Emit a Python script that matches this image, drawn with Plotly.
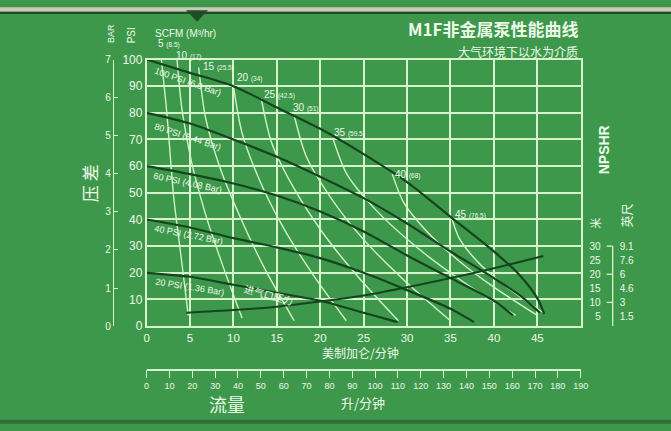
import plotly.graph_objects as go

# ---------------- data ----------------
gpm_ticks = [0, 5, 10, 15, 20, 25, 30, 35, 40, 45, 50]
gpm_ticktext = ["0", "5", "10", "15", "20", "25", "30", "35", "40", "45", ""]
psi_ticks = [0, 10, 20, 30, 40, 50, 60, 70, 80, 90, 100]
bar_ticks = [0, 1, 2, 3, 4, 5, 6, 7]
lpm_ticks = list(range(0, 200, 10))
npshr_vals = [5, 10, 15, 20, 25, 30]
npshr_left_text = ["5", "10", "15", "20", "25", "30"]
npshr_right_text = ["1.5", "3", "4.6", "6", "7.6", "9.1"]

# pressure (inlet air) curves: flow gpm -> discharge psi
psi100_gpm = [0, 5, 10, 15, 20, 25, 30, 35, 40, 43, 45, 45.8]
psi100_psi = [100, 95, 90, 82, 74, 64.5, 54, 41, 28, 19, 10.5, 4.5]
psi80_gpm = [0, 5, 10, 15, 20, 25, 30, 35, 40, 43, 45.3]
psi80_psi = [80, 76, 70, 63.5, 56, 48, 38.5, 28, 18, 11.5, 5]
psi60_gpm = [0, 5, 10, 15, 20, 25, 30, 35, 40, 42.2]
psi60_psi = [60, 57, 53.5, 49, 43, 35.5, 26.5, 18, 9.5, 4]
psi40_gpm = [0, 5, 10, 15, 20, 25, 30, 35, 37.7]
psi40_psi = [40, 37, 33, 29.5, 25.5, 20, 13.5, 6.5, 1.5]
psi20_gpm = [0, 5, 10, 15, 20, 25, 28.9]
psi20_psi = [20, 18.5, 15.5, 12.5, 9.5, 5, 1.5]

# NPSHR curve
npshr_gpm = [4.6, 10, 15, 20, 25, 30, 35, 40, 45.7]
npshr_val = [5, 6, 7.3, 9.2, 11.5, 14.6, 18, 21.7, 26.3]

# air consumption (SCFM) curves
scfm5_gpm = [1.7, 2.3, 2.7, 3.1, 3.7, 4.2, 4.8]
scfm5_psi = [100, 81, 65, 49, 33, 20, 4]
scfm10_gpm = [3.5, 4.1, 5.2, 6.8, 8.8, 11.0]
scfm10_psi = [100, 80.6, 61.2, 41.8, 22.4, 3]
scfm15_gpm = [6.0, 6.8, 8.5, 10.9, 13.7, 17.0]
scfm15_psi = [97, 78, 59, 40, 21, 2]
scfm20_gpm = [10, 11.0, 13.0, 15.7, 19.1, 23]
scfm20_psi = [90, 72.4, 54.8, 37.2, 19.6, 2]
scfm25_gpm = [13.2, 14.4, 16.9, 20.2, 24.3, 29.0]
scfm25_psi = [85.5, 68.8, 52.1, 35.4, 18.7, 2]
scfm30_gpm = [17, 18.4, 21.2, 24.9, 29.6, 35]
scfm30_psi = [79, 63.6, 48.2, 32.8, 17.4, 2]
scfm35_gpm = [21.5, 23.1, 26.4, 30.8, 36.2, 42.5]
scfm35_psi = [70, 56.8, 43.6, 30.4, 17.2, 4]
scfm40_gpm = [28.3, 29.6, 32.2, 35.7, 40.0, 45.0]
scfm40_psi = [57, 46.4, 35.8, 25.2, 14.6, 4]
scfm45_gpm = [35.2, 36.0, 37.6, 39.8, 42.6, 45.7]
scfm45_psi = [40, 33, 26, 19, 12, 5]

# labels
scfm_names = ["5", "10", "15", "20", "25", "30", "35", "40", "45"]
scfm_m3 = ["8.5", "17", "25.5", "34", "42.5", "51", "59.5", "68", "76.5"]
scfm_label_gpm = [2.6, 4.8, 8.3, 11.8, 15.3, 18.3, 23.4, 30.0, 37.3]
scfm_label_psi = [106, 101.4, 97.3, 93.1, 87, 82.1, 72.8, 56.9, 41.7]

pressure_labels = ["100 PSI (6.8 Bar)", "80 PSI (5.44 Bar)", "60 PSI (4.08 Bar)",
                   "40 PSI (2.72 Bar)", "20 PSI (1.36 Bar)"]
pressure_label_gpm = [4.8, 4.8, 4.8, 4.9, 5.0]
pressure_label_psi = [91.5, 71.0, 53.8, 34.3, 14.5]
pressure_label_angle = [19, 18, 12, 11, 9]

# ---------------- style ----------------
W, H = 671, 431
ML, MR, MT, MB = 60, 20, 10, 10
PW, PH = W - ML - MR, H - MT - MB


def pxx(px):
    return (px - ML) / PW


def pxy(py):
    return (H - MB - py) / PH


BG = "rgb(62,152,76)"
GRID = "rgb(214,244,204)"
TXT = "rgb(236,250,232)"
DARK = "rgb(22,68,30)"
AIR = "rgb(208,244,200)"
FONT = "Liberation Sans, Arial, Noto Sans CJK SC, sans-serif"
CJK = "Noto Sans CJK SC, sans-serif"

x_dom = [pxx(146.6), pxx(580.7)]
y_dom = [pxy(330), pxy(54)]
pos_np = pxx(612.7)


def psi_paper(p):
    return y_dom[0] + (y_dom[1] - y_dom[0]) * p / 100.0


fig = go.Figure()

scfm_curves = [(scfm5_gpm, scfm5_psi), (scfm10_gpm, scfm10_psi), (scfm15_gpm, scfm15_psi),
               (scfm20_gpm, scfm20_psi), (scfm25_gpm, scfm25_psi), (scfm30_gpm, scfm30_psi),
               (scfm35_gpm, scfm35_psi), (scfm40_gpm, scfm40_psi), (scfm45_gpm, scfm45_psi)]
for gx, py in scfm_curves:
    fig.add_trace(go.Scatter(x=gx, y=py, mode="lines",
                             line=dict(color=AIR, width=1.4, shape="spline", smoothing=0.8),
                             hoverinfo="skip", showlegend=False))

pressure_curves = [(psi100_gpm, psi100_psi), (psi80_gpm, psi80_psi), (psi60_gpm, psi60_psi),
                   (psi40_gpm, psi40_psi), (psi20_gpm, psi20_psi)]
for gx, py in pressure_curves:
    fig.add_trace(go.Scatter(x=gx, y=py, mode="lines",
                             line=dict(color=DARK, width=2.2, shape="spline", smoothing=0.8),
                             hoverinfo="skip", showlegend=False))

fig.add_trace(go.Scatter(x=npshr_gpm, y=npshr_val, mode="lines",
                         line=dict(color=DARK, width=2, shape="spline", smoothing=0.8),
                         hoverinfo="skip", showlegend=False))

# dummy traces to activate secondary axes
for xa, ya in [("x2", "y"), ("x", "y2"), ("x", "y3"), ("x", "y4")]:
    fig.add_trace(go.Scatter(x=[None], y=[None], xaxis=xa, yaxis=ya, mode="lines",
                             showlegend=False, hoverinfo="skip"))

fig.update_layout(
    width=W, height=H,
    margin=dict(l=ML, r=MR, t=MT, b=MB),
    paper_bgcolor=BG, plot_bgcolor=BG,
    font=dict(family=FONT, color=TXT),
    xaxis=dict(domain=x_dom, range=[0, 50], tickvals=gpm_ticks, ticktext=gpm_ticktext,
               showgrid=True, gridcolor=GRID, gridwidth=1.5, showline=True, linecolor=GRID,
               linewidth=1.5, mirror=True, zeroline=False, ticks="",
               tickfont=dict(size=11.5, color=TXT), anchor="y"),
    yaxis=dict(domain=y_dom, range=[0, 100], tickvals=psi_ticks,
               showgrid=True, gridcolor=GRID, gridwidth=1.5, showline=True, linecolor=GRID,
               linewidth=1.5, mirror=True, zeroline=False, ticks="",
               tickfont=dict(size=12, color=TXT), anchor="x"),
    xaxis2=dict(overlaying="x", anchor="free", position=pxy(375), side="bottom",
                range=[0, 190], tickvals=lpm_ticks, showgrid=False, zeroline=False,
                showline=True, linecolor=GRID, linewidth=1.5, ticks="outside", ticklen=8,
                tickcolor=GRID, tickwidth=1.2, tickfont=dict(size=9, color=TXT)),
    yaxis2=dict(overlaying="y", anchor="free", position=pxx(113), side="left",
                range=[0, 7], tickvals=bar_ticks, showgrid=False, zeroline=False,
                showline=True, linecolor=GRID, linewidth=1.2, ticks="inside", ticklen=4,
                tickcolor=GRID, tickfont=dict(size=10, color=TXT)),
    yaxis3=dict(overlaying="y", anchor="free", position=pos_np, side="left",
                range=[1.58, 96.3], tickvals=npshr_vals, ticktext=npshr_left_text,
                showgrid=False, zeroline=False, showline=False, ticks="",
                ticklabelstandoff=12, tickfont=dict(size=10, color=TXT)),
    yaxis4=dict(overlaying="y", anchor="free", position=pos_np, side="right",
                range=[1.58, 96.3], tickvals=npshr_vals, ticktext=npshr_right_text,
                showgrid=False, zeroline=False, showline=False, ticks="",
                ticklabelstandoff=6, tickfont=dict(size=10, color=TXT)),
)

shapes = []
# NPSHR bracket
shapes.append(dict(type="line", xref="paper", yref="y3", x0=pos_np, x1=pos_np, y0=30, y1=1.0,
                   line=dict(color=GRID, width=1.3)))
for v in [30, 20, 10, 1.0]:
    shapes.append(dict(type="line", xref="paper", yref="y3", x0=pos_np - 6 / PW, x1=pos_np,
                       y0=v, y1=v, line=dict(color=GRID, width=1.3)))
# top strip, frame line, arrow, bottom band
shapes.append(dict(type="rect", xref="paper", yref="paper", x0=pxx(0), x1=pxx(W),
                   y0=pxy(0), y1=pxy(4.5), fillcolor="rgb(205,200,182)", line=dict(width=0)))
shapes.append(dict(type="rect", xref="paper", yref="paper", x0=pxx(0), x1=pxx(W),
                   y0=pxy(4.5), y1=pxy(7), fillcolor="rgb(30,78,38)", line=dict(width=0)))
shapes.append(dict(type="path", xref="paper", yref="paper",
                   path="M {} {} L {} {} L {} {} Z".format(pxx(186), pxy(3), pxx(208), pxy(3),
                                                        pxx(197), pxy(15)),
                   fillcolor="rgb(30,78,38)", line=dict(width=0)))
shapes.append(dict(type="rect", xref="paper", yref="paper", x0=pxx(0), x1=pxx(W),
                   y0=pxy(427), y1=pxy(H), fillcolor="rgb(44,112,56)", line=dict(width=0)))
fig.update_layout(shapes=shapes)

ann = []


def txt(x, y, text, size, angle=0, xanchor="center", family=FONT, xref="paper", yref="paper"):
    ann.append(dict(x=x, y=y, xref=xref, yref=yref, text=text, showarrow=False,
                    xanchor=xanchor, yanchor="middle", textangle=angle,
                    font=dict(size=size, color=TXT, family=family)))


# SCFM labels on curves
for name, m3, gx, py in zip(scfm_names, scfm_m3, scfm_label_gpm, scfm_label_psi):
    txt(gx, psi_paper(py), "{} <span style='font-size:6.5px'>({})</span>".format(name, m3), 10,
        xref="x", yref="paper")
# pressure curve labels
for lab, gx, py, a in zip(pressure_labels, pressure_label_gpm, pressure_label_psi,
                          pressure_label_angle):
    txt(gx, py, lab, 9, angle=a, xref="x", yref="y")
txt(14.1, 12, "进气口压力", 10, angle=15, family=CJK, xref="x", yref="y")

# titles and axis captions
txt(pxx(580), pxy(22), "<b>M1F非金属泵性能曲线</b>", 17, xanchor="right", family=CJK)
txt(pxx(580), pxy(46), "大气环境下以水为介质", 12, xanchor="right", family=CJK)
txt(pxx(152.7), pxy(27), "SCFM (M³/hr)", 10, xanchor="left")
txt(pxx(111), pxy(27.5), "BAR", 9, angle=-90)
txt(pxx(131), pxy(29), "PSI", 10, angle=-90)
txt(pxx(89), pxy(182), "压 差", 17, angle=-90, family=CJK)
txt(pxx(603.5), pxy(147.5), "<b>NPSHR</b>", 14, angle=-90)
txt(pxx(595), pxy(224), "米", 11, angle=-90, family=CJK)
txt(pxx(626.5), pxy(216), "英尺", 12, angle=-90, family=CJK)
txt(pxx(360), pxy(357.5), "美制加仑/分钟", 12, family=CJK)
txt(pxx(227), pxy(411), "流量", 18, family=CJK)
txt(pxx(363), pxy(409), "升/分钟", 13, family=CJK)

fig.update_layout(annotations=ann)

fig.write_html("out.html",
               config={"displayModeBar": False},
               post_script="document.body.style.margin='0px';"
                           "document.body.style.overflow='hidden';")
